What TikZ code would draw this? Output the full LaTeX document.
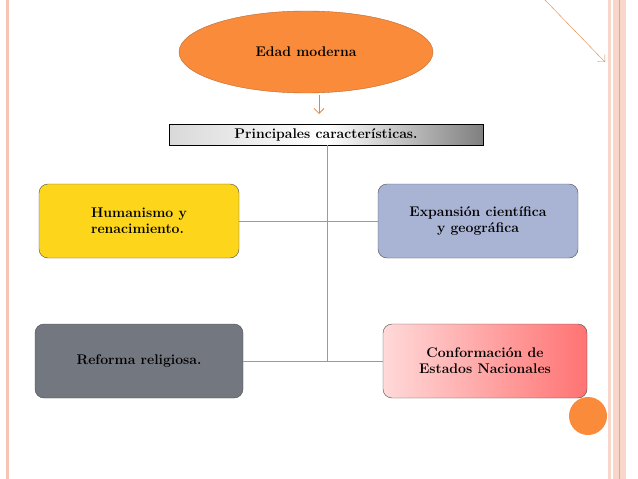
\documentclass[tikz,border=0pt]{standalone}
\usetikzlibrary{shapes.geometric,arrows.meta}
\definecolor{naranja}{HTML}{F98B3A}
\definecolor{linea}{HTML}{E8843E}
\definecolor{rosa}{HTML}{F7C4B4}
\tikzset{
  caja/.style={draw=black!70, rounded corners=9pt, minimum width=200pt, minimum height=74pt,
    font=\fontsize{14}{16}\selectfont\bfseries, align=left, drop shadow/.try},
  enlace/.style={linea, line width=0.8pt}
}

\begin{document}
\begin{tikzpicture}[x=1pt, y=-1pt]
\useasboundingbox (0,0) rectangle (638,479);
% Borders
    \draw[rosa, line width=3pt] (7,0) -- (7,479);
    \fill[rosa!70] (608,0) rectangle (626,479);
    \draw[white, line width=1.5pt] (612,0) -- (612,479);
    \draw[rosa!160, line width=0.6pt] (619,0) -- (619,479);
    \draw[linea, -{Straight Barb[length=5pt]}] (545,0) -- (605,62);
% Nodes
    \node[ellipse, draw=linea!80!black, fill=naranja, minimum width=254pt, minimum height=82pt,
      font=\fontsize{14}{16}\selectfont\bfseries] (edad) at (306,52) {Edad moderna};
    \shade[left color=black!15, right color=black!50, middle color=white, draw=black]
      (169,124) rectangle (483,145);
    \node[font=\fontsize{14}{16}\selectfont\bfseries] (carac) at (326,134.5) {Principales características.};
    \coordinate (caracS) at (327,145);
    \node[caja, fill=yellow!70!orange!90] (hum) at (139,221) {Humanismo y\\renacimiento.};
    \node[caja, fill={rgb,255:red,169;green,179;blue,211}, align=center] (exp) at (478,221) {Expansión científica\\y geográfica};
    \node[caja, fill={rgb,255:red,115;green,119;blue,128}, minimum width=208pt] (ref) at (139,361) {Reforma religiosa.};
    \shade[left color=red!15, right color=red!55, draw=black!70, rounded corners=9pt]
      (383,324) rectangle (587,398);
    \node[font=\fontsize{14}{16}\selectfont\bfseries, align=center] (conf) at (485,361) {Conformación de\\Estados Nacionales};
    \fill[naranja] (588,416) circle (19);
% Connectors
    \draw[enlace, -{Straight Barb[length=5pt]}] (319,95) -- (319,114);
    \draw[enlace] (caracS) -- (327,361);
    \draw[enlace] (hum.east) -- (exp.west);
    \draw[enlace] (ref.east) -- (383,361);
\end{tikzpicture}
\end{document}
